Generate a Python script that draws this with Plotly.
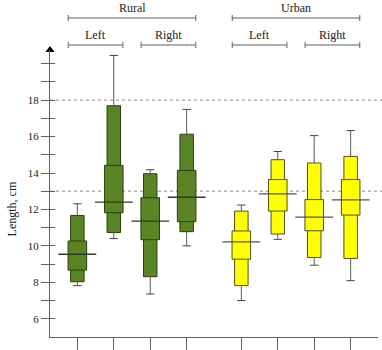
import plotly.graph_objects as go

# ---- data ----
groups = ["Rural", "Rural", "Rural", "Rural", "Urban", "Urban", "Urban", "Urban"]
sides = ["Left", "Left", "Right", "Right", "Left", "Left", "Right", "Right"]
whisk_lo = [7.82, 10.40, 7.36, 10.00, 7.00, 10.36, 8.94, 8.09]
outer_lo = [8.03, 10.73, 8.31, 10.78, 7.82, 10.65, 9.36, 9.31]
q1 = [8.67, 11.82, 10.34, 11.33, 9.27, 11.91, 10.83, 11.69]
median = [9.54, 12.40, 11.36, 12.67, 10.22, 12.85, 11.58, 12.53]
q3 = [10.27, 14.42, 12.64, 14.14, 10.82, 13.64, 12.54, 13.64]
outer_hi = [11.67, 17.69, 13.96, 16.13, 11.91, 14.73, 14.55, 14.91]
whisk_hi = [12.31, 20.45, 14.18, 17.49, 12.24, 15.18, 16.05, 16.33]
ref_lines = [18, 13]
y_tick_values = list(range(6, 21))
y_tick_labels = [str(v) if (v % 2 == 0 and v <= 18) else "" for v in y_tick_values]

# ---- layout helpers ----
group_order = ["Rural", "Urban"]
gi = [group_order.index(g) for g in groups]
pos = [i + 1 + 0.5 * gi[i] for i in range(len(groups))]
fill = {"Rural": "#5b8524", "Urban": "#ffff00"}
edge = {"Rural": "#2a3f10", "Urban": "#4f4f1c"}
mcol = {"Rural": "#2f3a22", "Urban": "#555540"}
fills = [fill[g] for g in groups]
edges = [edge[g] for g in groups]
mcols = [mcol[g] for g in groups]
AX = "#606060"
FONT = "Liberation Serif"

fig = go.Figure()

# whisker stems
wx, wy = [], []
for p, a, b, c, d in zip(pos, whisk_lo, outer_lo, outer_hi, whisk_hi):
    wx += [p, p, None, p, p, None]
    wy += [a, b, None, c, d, None]
fig.add_trace(go.Scatter(x=wx, y=wy, mode="lines", line=dict(color="#5a5a5a", width=1),
                         hoverinfo="skip", showlegend=False))
# whisker caps
fig.add_trace(go.Scatter(x=pos + pos, y=whisk_lo + whisk_hi, mode="markers",
                         marker=dict(symbol="line-ew", size=6, line=dict(color="#444", width=1)),
                         hoverinfo="skip", showlegend=False))

# outer (narrow) bars
fig.add_trace(go.Bar(x=pos, base=outer_lo, y=[h - l for h, l in zip(outer_hi, outer_lo)],
                     width=0.37, marker=dict(color=fills, line=dict(color=edges, width=1)),
                     showlegend=False))
# inner (wide) boxes
fig.add_trace(go.Bar(x=pos, base=q1, y=[h - l for h, l in zip(q3, q1)],
                     width=0.51, marker=dict(color=fills, line=dict(color=edges, width=1)),
                     showlegend=False))
# medians
fig.add_trace(go.Scatter(x=pos, y=median, mode="markers",
                         marker=dict(symbol="line-ew", size=27, line=dict(color=mcols, width=1.3)),
                         showlegend=False))

# axis arrow head (on overlay axis so it exists)
x_range = [0.25, 9.25]
y_range = [5, 20.75]
fig.add_trace(go.Scatter(x=[x_range[0]], y=[y_range[1]], yaxis="y2", mode="markers",
                         marker=dict(symbol="triangle-up", size=8, color="black"),
                         cliponaxis=False, hoverinfo="skip", showlegend=False))

shapes = []
for v in ref_lines:
    shapes.append(dict(type="line", xref="paper", yref="y", x0=0, x1=1.02, y0=v, y1=v,
                       line=dict(color="#8a8a8a", width=1, dash="dot"), layer="below"))

annotations = []
top_level = 1.1115
sub_level = 1.0174


def bracket(x0, x1, level, label):
    shapes.append(dict(type="line", xref="x", yref="paper", x0=x0, x1=x1, y0=level, y1=level,
                       line=dict(color=AX, width=1)))
    for xe in (x0, x1):
        shapes.append(dict(type="line", xref="x", yref="paper", ysizemode="pixel", yanchor=level,
                           x0=xe, x1=xe, y0=-3, y1=3, line=dict(color=AX, width=1)))
    annotations.append(dict(text=label, xref="x", yref="paper", x=(x0 + x1) / 2, y=level,
                            yanchor="bottom", xanchor="center", showarrow=False, yshift=1,
                            font=dict(family=FONT, size=12, color="#222")))


for g in group_order:
    gp = [p for p, gg in zip(pos, groups) if gg == g]
    bracket(min(gp) - 0.25, max(gp) + 0.25, top_level, g)
    for s in ["Left", "Right"]:
        sp = [p for p, gg, ss in zip(pos, groups, sides) if gg == g and ss == s]
        bracket(min(sp) - 0.25, max(sp) + 0.25, sub_level, s)

annotations.append(dict(text="Length, cm", xref="paper", yref="y", x=0, y=12, xshift=-38,
                        xanchor="center", yanchor="middle", textangle=-90, showarrow=False,
                        font=dict(family=FONT, size=12, color="#222")))

fig.update_layout(
    width=382, height=350,
    margin=dict(l=50, r=4.4, t=50, b=13, pad=0, autoexpand=False),
    paper_bgcolor="white", plot_bgcolor="white",
    barmode="overlay", showlegend=False,
    shapes=shapes, annotations=annotations,
    xaxis=dict(range=x_range, tickvals=pos, showticklabels=False, ticks="outside", ticklen=13,
               tickcolor=AX, tickwidth=1, showline=True, linecolor=AX, linewidth=1,
               showgrid=False, zeroline=False, automargin=False),
    yaxis=dict(range=y_range, tickvals=y_tick_values, ticktext=y_tick_labels, ticks="outside",
               ticklen=8, tickcolor=AX, tickwidth=1, showline=True, linecolor=AX, linewidth=1,
               showgrid=False, zeroline=False, automargin=False,
               tickfont=dict(family=FONT, size=11, color="#222")),
    yaxis2=dict(range=y_range, overlaying="y", side="left", anchor="x", tickvals=y_tick_values,
                ticks="inside", ticklen=5, tickcolor=AX, tickwidth=1, showticklabels=False,
                showline=False, showgrid=False, zeroline=False, automargin=False),
)

fig.write_html(
    "out.html",
    config={"displayModeBar": False},
    post_script="document.body.style.margin='0';document.body.style.overflow='hidden';",
)
